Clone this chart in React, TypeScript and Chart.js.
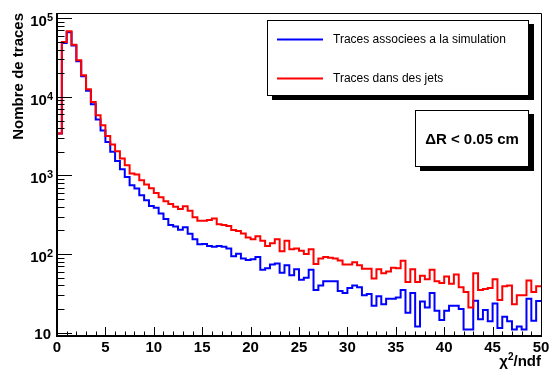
import React, { useEffect, useRef } from "react";
import { Chart, registerables } from "chart.js";

Chart.register(...registerables);

// Histogram binning: 100 bins of width 0.5 between 0 and 50
const binWidth = 0.5;

// Tracks matched to the simulation (blue)
const simTraces = [
  3420, 48500, 66500, 45000, 28500, 18300, 12000, 8050, 5150, 3730,
  2670, 2000, 1530, 1200, 960, 753, 684, 562, 485, 410,
  390, 329, 280, 235, 225, 204, 220, 181, 155, 133,
  134, 127, 124, 127, 124, 118, 94, 101, 88, 84,
  86, 92, 63, 66, 74, 76, 58, 72, 54, 64,
  47, 50, 63, 35, 40, 45, 45, 45, 34, 32,
  37, 40, 38, 30, 31, 22, 29, 23, 27, 27,
  28, 35, 18, 32, 12, 25, 21, 32, 19, 14.5,
  19, 22, 22, 20, 11, 11, 25.5, 14.8, 19.4, 14,
  23.6, 11.5, 16, 14, 11, 12, 11, 27, 14.2, 25.3,
];

// Tracks inside jets (red)
const jetTraces = [
  3420, 49900, 68200, 46200, 29200, 18800, 12500, 8610, 5840, 4360,
  3190, 2480, 2040, 1640, 1350, 1060, 1030, 871, 769, 690,
  600, 530, 470, 435, 400, 375, 405, 355, 295, 266,
  265, 272, 284, 240, 234, 227, 202, 196, 183, 163,
  154, 169, 148, 127, 137, 154, 109, 148, 115, 118,
  110, 100, 115, 75, 88, 92, 90, 88, 83, 74,
  74, 79, 72, 65, 65, 49, 64, 57, 60, 67,
  66, 82, 44, 64, 44, 53, 48, 63, 45, 43,
  52, 42, 55, 38, 33, 21, 57, 35, 36, 37,
  48, 26, 39, 40, 23, 30, 30, 46, 33, 39,
];

const seriesLabels = ["Traces associees a la simulation", "Traces dans des jets"];
const seriesColors = ["#0000ff", "#ff0000"];

const xMajorTicks = [0, 5, 10, 15, 20, 25, 30, 35, 40, 45, 50];
const xMinorStep = 1;
const yDecades = [10, 100, 1000, 10000, 100000];
const yDecadeExponents = ["", "2", "3", "4", "5"];
const xMin = 0;
const xMax = 50;
const yMin = 9.08;
const yMax = 116700;

const xTitle = "\u03c7";
const xTitleSup = "2";
const xTitleRest = "/ndf";
const yTitle = "Nombre de traces";
const cutLabel = "\u0394R < 0.05 cm";

const FONT = '"Liberation Sans", Arial, Helvetica, sans-serif';

function toSteps(values: number[]) {
  const pts = values.map((v, i) => ({ x: i * binWidth, y: v }));
  pts.push({ x: values.length * binWidth, y: values[values.length - 1] });
  return pts;
}

function shadowBox(ctx: CanvasRenderingContext2D, x: number, y: number, w: number, h: number) {
  ctx.fillStyle = "#000";
  ctx.fillRect(x + 5, y + 4, w, h);
  ctx.fillStyle = "#fff";
  ctx.fillRect(x, y, w, h);
  ctx.strokeStyle = "#000";
  ctx.lineWidth = 1;
  ctx.strokeRect(x + 0.5, y + 0.5, w - 1, h - 1);
}

const rootStyle = {
  id: "rootStyle",
  afterDraw(chart: any) {
    const { ctx, chartArea: a, scales } = chart;
    const xs = scales.x;
    const ys = scales.y;
    ctx.save();

    // frame
    ctx.strokeStyle = "#000";
    ctx.lineWidth = 1;
    ctx.beginPath();
    ctx.moveTo(a.left, a.top + 0.5);
    ctx.lineTo(a.right + 0.5, a.top + 0.5);
    ctx.lineTo(a.right + 0.5, a.bottom);
    ctx.stroke();
    ctx.lineWidth = 2;
    ctx.beginPath();
    ctx.moveTo(a.left, a.top);
    ctx.lineTo(a.left, a.bottom);
    ctx.lineTo(a.right + 1, a.bottom);
    ctx.stroke();

    // x ticks (pointing up into the frame)
    ctx.lineWidth = 1;
    ctx.beginPath();
    for (let v = xMin; v <= xMax; v += xMinorStep) {
      const px = Math.round(xs.getPixelForValue(v)) + 0.5;
      const len = xMajorTicks.includes(v) ? 9 : 4.5;
      ctx.moveTo(px, a.bottom);
      ctx.lineTo(px, a.bottom - len);
    }
    // y ticks (pointing right into the frame)
    yDecades.forEach((d) => {
      for (let m = 1; m <= 9; m++) {
        const v = d * m;
        if (v < yMin || v > yMax) continue;
        const py = Math.round(ys.getPixelForValue(v)) + 0.5;
        const len = m === 1 ? 15 : 7.5;
        ctx.moveTo(a.left, py);
        ctx.lineTo(a.left + len, py);
      }
    });
    const below = yDecades[0] / 10;
    for (let m = 2; m <= 9; m++) {
      const v = below * m;
      if (v < yMin) continue;
      const py = Math.round(ys.getPixelForValue(v)) + 0.5;
      ctx.moveTo(a.left, py);
      ctx.lineTo(a.left + 7.5, py);
    }
    ctx.stroke();

    // x tick labels
    ctx.fillStyle = "#000";
    ctx.font = `bold 15px ${FONT}`;
    ctx.textAlign = "center";
    ctx.textBaseline = "alphabetic";
    xMajorTicks.forEach((v) => {
      ctx.fillText(String(v), xs.getPixelForValue(v), a.bottom + 16);
    });

    // y tick labels: 10 with superscript exponent
    yDecades.forEach((d, i) => {
      const py = ys.getPixelForValue(d);
      const exp = yDecadeExponents[i];
      const right = 53;
      ctx.textAlign = "right";
      ctx.textBaseline = "alphabetic";
      if (exp) {
        ctx.font = `bold 11px ${FONT}`;
        const ew = ctx.measureText(exp).width;
        ctx.fillText(exp, right, py + 3);
        ctx.font = `bold 15px ${FONT}`;
        ctx.fillText("10", right - ew, py + 8);
      } else {
        ctx.font = `bold 15px ${FONT}`;
        ctx.fillText("10", right - 2, py + 6);
      }
    });

    // axis titles
    ctx.font = `bold 15px ${FONT}`;
    ctx.textAlign = "left";
    ctx.textBaseline = "alphabetic";
    const restW = ctx.measureText(xTitleRest).width;
    const chiW = ctx.measureText(xTitle).width;
    ctx.font = `bold 10px ${FONT}`;
    const supW = ctx.measureText(xTitleSup).width;
    const endX = a.right;
    const base = 366;
    ctx.font = `bold 15px ${FONT}`;
    ctx.fillText(xTitleRest, endX - restW, base);
    ctx.fillText(xTitle, endX - restW - supW - chiW, base);
    ctx.font = `bold 10px ${FONT}`;
    ctx.fillText(xTitleSup, endX - restW - supW, base - 6);

    ctx.save();
    ctx.translate(23, a.top);
    ctx.rotate(-Math.PI / 2);
    ctx.font = `bold 15px ${FONT}`;
    ctx.textAlign = "right";
    ctx.textBaseline = "alphabetic";
    ctx.fillText(yTitle, 0, 0);
    ctx.restore();

    // legend
    const lx = 267, ly = 20, lw = 262, lh = 76;
    shadowBox(ctx, lx, ly, lw, lh);
    const rows = [39.5, 78.5];
    chart.data.datasets
      .slice()
      .sort((p: any, q: any) => q.order - p.order)
      .forEach((ds: any, i: number) => {
        ctx.strokeStyle = ds.borderColor;
        ctx.lineWidth = 2;
        ctx.beginPath();
        ctx.moveTo(277, rows[i]);
        ctx.lineTo(323, rows[i]);
        ctx.stroke();
        ctx.fillStyle = "#000";
        ctx.font = `12px ${FONT}`;
        ctx.textAlign = "left";
        ctx.textBaseline = "middle";
        ctx.fillText(ds.label, 333, rows[i]);
      });

    // selection box
    const bx = 415, by = 110, bw = 114, bh = 57;
    shadowBox(ctx, bx, by, bw, bh);
    ctx.fillStyle = "#000";
    ctx.font = `bold 15px ${FONT}`;
    ctx.textAlign = "center";
    ctx.textBaseline = "middle";
    ctx.fillText(cutLabel, bx + bw / 2, by + bh / 2 + 1);

    ctx.restore();
  },
};

export default function App() {
  const canvasRef = useRef<HTMLCanvasElement | null>(null);

  useEffect(() => {
    const canvas = canvasRef.current;
    if (!canvas) return;
    const chart = new Chart(canvas, {
      type: "line",
      data: {
        datasets: [
          {
            label: seriesLabels[0],
            data: toSteps(simTraces),
            borderColor: seriesColors[0],
            borderWidth: 2,
            stepped: true,
            pointRadius: 0,
            fill: false,
            order: 1,
          },
          {
            label: seriesLabels[1],
            data: toSteps(jetTraces),
            borderColor: seriesColors[1],
            borderWidth: 2,
            stepped: true,
            pointRadius: 0,
            fill: false,
            order: 0,
          },
        ],
      },
      options: {
        animation: false,
        responsive: false,
        events: [],
        layout: { padding: { left: 57, right: 9, top: 13, bottom: 33 } },
        plugins: { legend: { display: false }, tooltip: { enabled: false } },
        scales: {
          x: { type: "linear", min: xMin, max: xMax, display: false },
          y: { type: "logarithmic", min: yMin, max: yMax, display: false },
        },
      },
      plugins: [rootStyle],
    });
    return () => chart.destroy();
  }, []);

  return (
    <div style={{ position: "fixed", left: 0, top: 0, width: 550, height: 369, background: "#fff" }}>
      <canvas ref={canvasRef} width={550} height={369} style={{ display: "block" }} />
    </div>
  );
}
